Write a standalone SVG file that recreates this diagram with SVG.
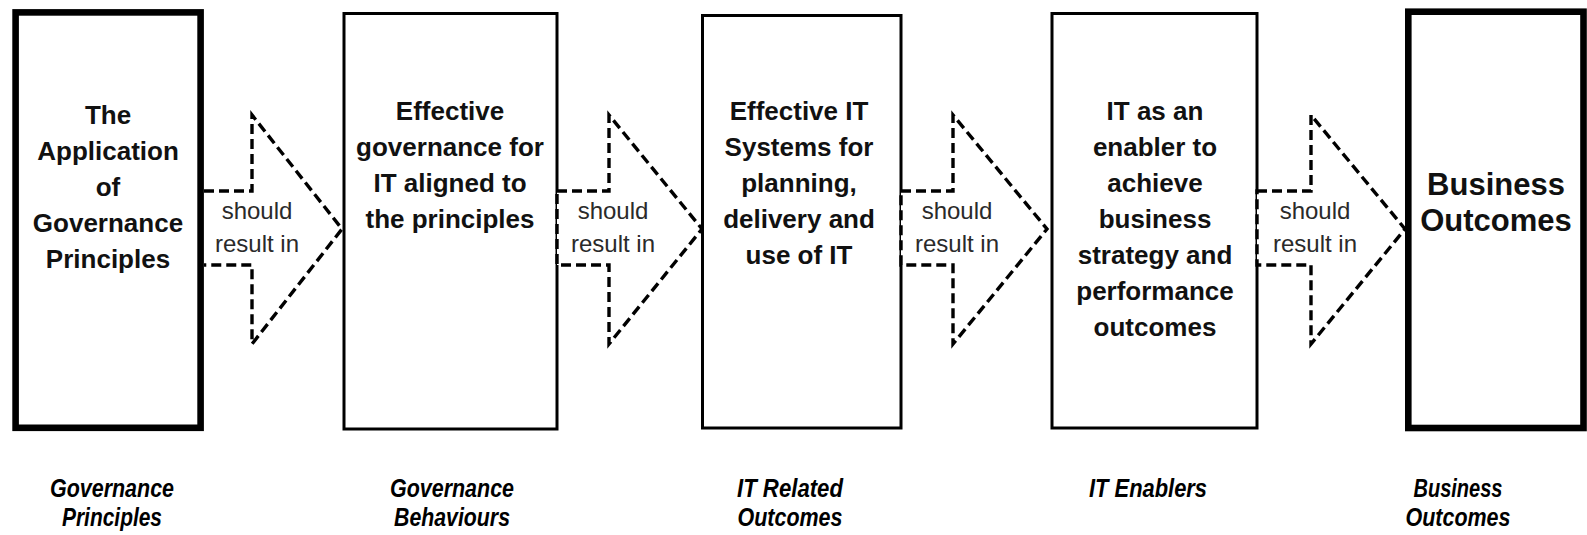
<svg xmlns="http://www.w3.org/2000/svg" width="1587" height="535" viewBox="0 0 1587 535">
  <style>
    .box { fill: #ffffff; stroke: #000000; stroke-width: 3; }
    .thick { stroke-width: 6.6; }
    .arrow { fill: #ffffff; stroke: #000000; stroke-width: 3.4; stroke-dasharray: 10 5; stroke-linejoin: miter; }
    .t { font-family: "Liberation Sans", Arial, sans-serif; font-weight: bold; font-size: 26px; fill: #111111; text-anchor: middle; }
    .big { font-size: 31px; }
    .lbl { font-family: "Liberation Sans", Arial, sans-serif; font-size: 24px; fill: #2a2a2a; text-anchor: middle; }
    .cap { font-family: "Liberation Sans", Arial, sans-serif; font-weight: bold; font-style: italic; font-size: 25px; fill: #000000; text-anchor: middle; }
  </style>
  <rect width="1587" height="535" fill="#ffffff"/>

  <g id="node-principles">
    <rect class="box thick" x="15.6" y="12.4" width="185" height="415.4"/>
    <text class="t"><tspan x="108" y="124">The</tspan><tspan x="108" y="160">Application</tspan><tspan x="108" y="196">of</tspan><tspan x="108" y="232">Governance</tspan><tspan x="108" y="268">Principles</tspan></text>
  </g>

  <g id="node-behaviours">
    <rect class="box" x="344" y="13.5" width="213" height="415.5"/>
    <text class="t"><tspan x="450" y="120">Effective</tspan><tspan x="450" y="156">governance for</tspan><tspan x="450" y="192">IT aligned to</tspan><tspan x="450" y="228">the principles</tspan></text>
  </g>

  <g id="node-it-outcomes">
    <rect class="box" x="702.5" y="15.5" width="198.5" height="412.5"/>
    <text class="t"><tspan x="799" y="120">Effective IT</tspan><tspan x="799" y="156">Systems for</tspan><tspan x="799" y="192">planning,</tspan><tspan x="799" y="228">delivery and</tspan><tspan x="799" y="264">use of IT</tspan></text>
  </g>

  <g id="node-it-enablers">
    <rect class="box" x="1052" y="13.5" width="205" height="414.5"/>
    <text class="t"><tspan x="1155" y="120">IT as an</tspan><tspan x="1155" y="156">enabler to</tspan><tspan x="1155" y="192">achieve</tspan><tspan x="1155" y="228">business</tspan><tspan x="1155" y="264">strategy and</tspan><tspan x="1155" y="300">performance</tspan><tspan x="1155" y="336">outcomes</tspan></text>
  </g>

  <g id="node-business-outcomes">
    <rect class="box thick" x="1408.3" y="11.7" width="175.2" height="416.3"/>
    <text class="t big"><tspan x="1496" y="195">Business</tspan><tspan x="1496" y="231">Outcomes</tspan></text>
  </g>

  <g id="connectors">
    <g id="arrow-1">
      <path class="arrow" d="M204,191 H252 V115 L342,229 L252,344 V265 H204"/>
      <text class="lbl"><tspan x="257" y="219">should</tspan><tspan x="257" y="252">result in</tspan></text>
    </g>
    <g id="arrow-2">
      <path class="arrow" d="M557,191 H609 V115 L702,229 L609,344 V265 H557 Z"/>
      <text class="lbl"><tspan x="613" y="219">should</tspan><tspan x="613" y="252">result in</tspan></text>
    </g>
    <g id="arrow-3">
      <path class="arrow" d="M901,191 H953 V115 L1047,229 L953,344 V265 H901 Z"/>
      <text class="lbl"><tspan x="957" y="219">should</tspan><tspan x="957" y="252">result in</tspan></text>
    </g>
    <g id="arrow-4">
      <path class="arrow" d="M1257,191 H1311 V115 L1405,229 L1311,344 V265 H1257 Z"/>
      <text class="lbl"><tspan x="1315" y="219">should</tspan><tspan x="1315" y="252">result in</tspan></text>
    </g>
  </g>

  <g id="captions">
    <text class="cap" x="112" y="497" textLength="124" lengthAdjust="spacingAndGlyphs">Governance</text>
    <text class="cap" x="112" y="526" textLength="100" lengthAdjust="spacingAndGlyphs">Principles</text>
    <text class="cap" x="452" y="497" textLength="124" lengthAdjust="spacingAndGlyphs">Governance</text>
    <text class="cap" x="452" y="526" textLength="116" lengthAdjust="spacingAndGlyphs">Behaviours</text>
    <text class="cap" x="790" y="497" textLength="106" lengthAdjust="spacingAndGlyphs">IT Related</text>
    <text class="cap" x="790" y="526" textLength="105" lengthAdjust="spacingAndGlyphs">Outcomes</text>
    <text class="cap" x="1148" y="497" textLength="118" lengthAdjust="spacingAndGlyphs">IT Enablers</text>
    <text class="cap" x="1458" y="497" textLength="89" lengthAdjust="spacingAndGlyphs">Business</text>
    <text class="cap" x="1458" y="526" textLength="105" lengthAdjust="spacingAndGlyphs">Outcomes</text>
  </g>
</svg>
